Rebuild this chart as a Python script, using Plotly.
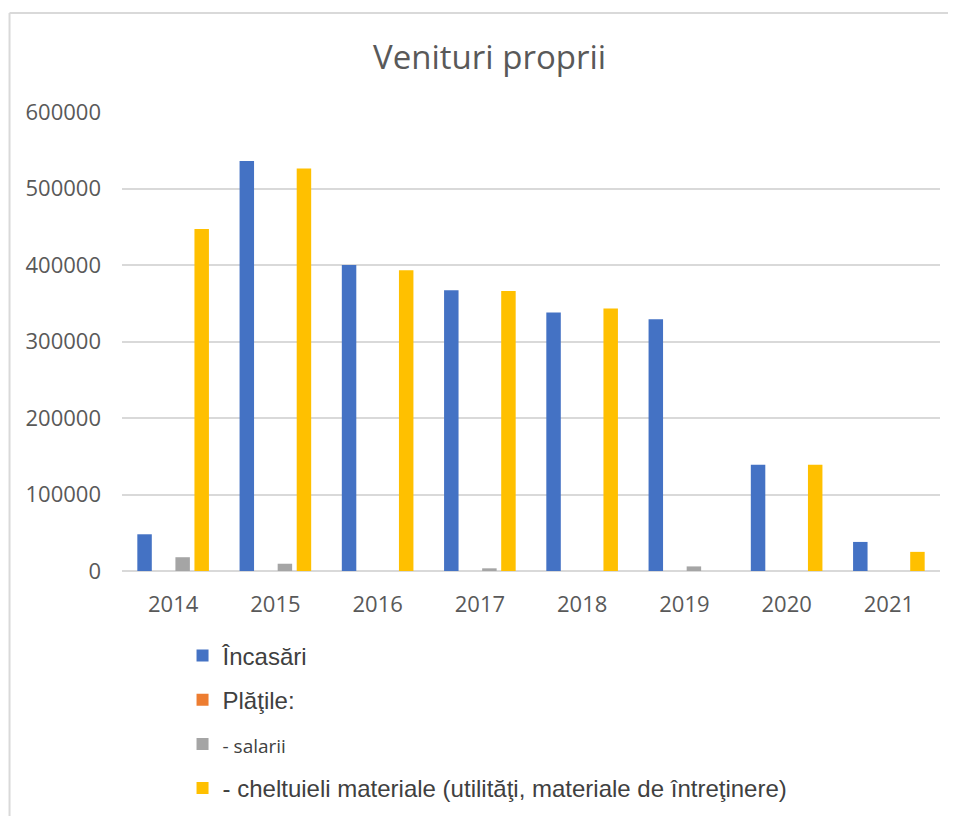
import plotly.graph_objects as go

# Data
years = ['2014', '2015', '2016', '2017', '2018', '2019', '2020', '2021']
incasari = [48000, 536000, 400000, 367000, 338000, 329000, 139000, 38000]
platile = [0, 0, 0, 0, 0, 0, 0, 0]
salarii = [18000, 9500, 0, 3500, 0, 6000, 0, 0]
cheltuieli = [447000, 526000, 393000, 366000, 343000, 0, 139000, 25000]

y_ticks = [0, 100000, 200000, 300000, 400000, 500000, 600000]

series = [
    ('Încasări', incasari, '#4472C4'),
    ('Plăţile:', platile, '#ED7D31'),
    ("<span style='font-family:Open Sans;font-size:19px'>- salarii</span>", salarii, '#A5A5A5'),
    ('- cheltuieli materiale (utilităţi, materiale de întreţinere)', cheltuieli, '#FFC000'),
]

fig = go.Figure()

for i, (name, values, color) in enumerate(series):
    fig.add_trace(go.Bar(
        x=years,
        y=values,
        name=name,
        legendgroup=f'g{i}',
        marker=dict(color=color, line=dict(width=0)),
    ))

# light frame around the chart area, like the Excel chart border
border = dict(type='line', xref='paper', yref='paper',
              line=dict(color='#D9D9D9', width=2))
fig.add_shape(**border, x0=-0.1375, x1=1.03, y0=1.2157, y1=1.2157)
fig.add_shape(**border, x0=-0.1375, x1=-0.1375, y0=1.2157, y1=-0.54)

# the page body adds an 8px offset, so the figure is sized for that
fig.update_layout(
    width=948,
    height=808,
    margin=dict(l=114, r=16, t=104, b=245, autoexpand=False),
    paper_bgcolor='white',
    plot_bgcolor='white',
    title=dict(
        text='Venituri proprii',
        x=0.508, xanchor='center',
        y=1 - 49 / 808, yanchor='middle', yref='container',
        font=dict(family='Open Sans', size=33, color='#595959'),
    ),
    barmode='group',
    bargap=0.255,
    bargroupgap=0.24,
    font=dict(family='Open Sans', size=22, color='#595959'),
    xaxis=dict(
        showgrid=False,
        showline=False,
        ticks='',
        ticklabelstandoff=18,
        tickfont=dict(family='Open Sans', size=22, color='#595959'),
    ),
    yaxis=dict(
        range=[0, 600000],
        tickvals=y_ticks,
        ticktext=[str(v) for v in y_ticks],
        showgrid=True,
        gridcolor='#D9D9D9',
        gridwidth=1.5,
        zeroline=True,
        zerolinecolor='#D9D9D9',
        zerolinewidth=1.5,
        showline=False,
        ticks='',
        ticklabelstandoff=20,
        tickfont=dict(family='Open Sans', size=22, color='#595959'),
    ),
    legend=dict(
        orientation='v',
        x=0.074, xanchor='left',
        y=-0.136, yanchor='top',
        font=dict(family='Liberation Sans, Arial', size=24, color='#404040'),
        tracegroupgap=10,
        bgcolor='rgba(0,0,0,0)',
    ),
    showlegend=True,
)

fig.write_html("out.html")
